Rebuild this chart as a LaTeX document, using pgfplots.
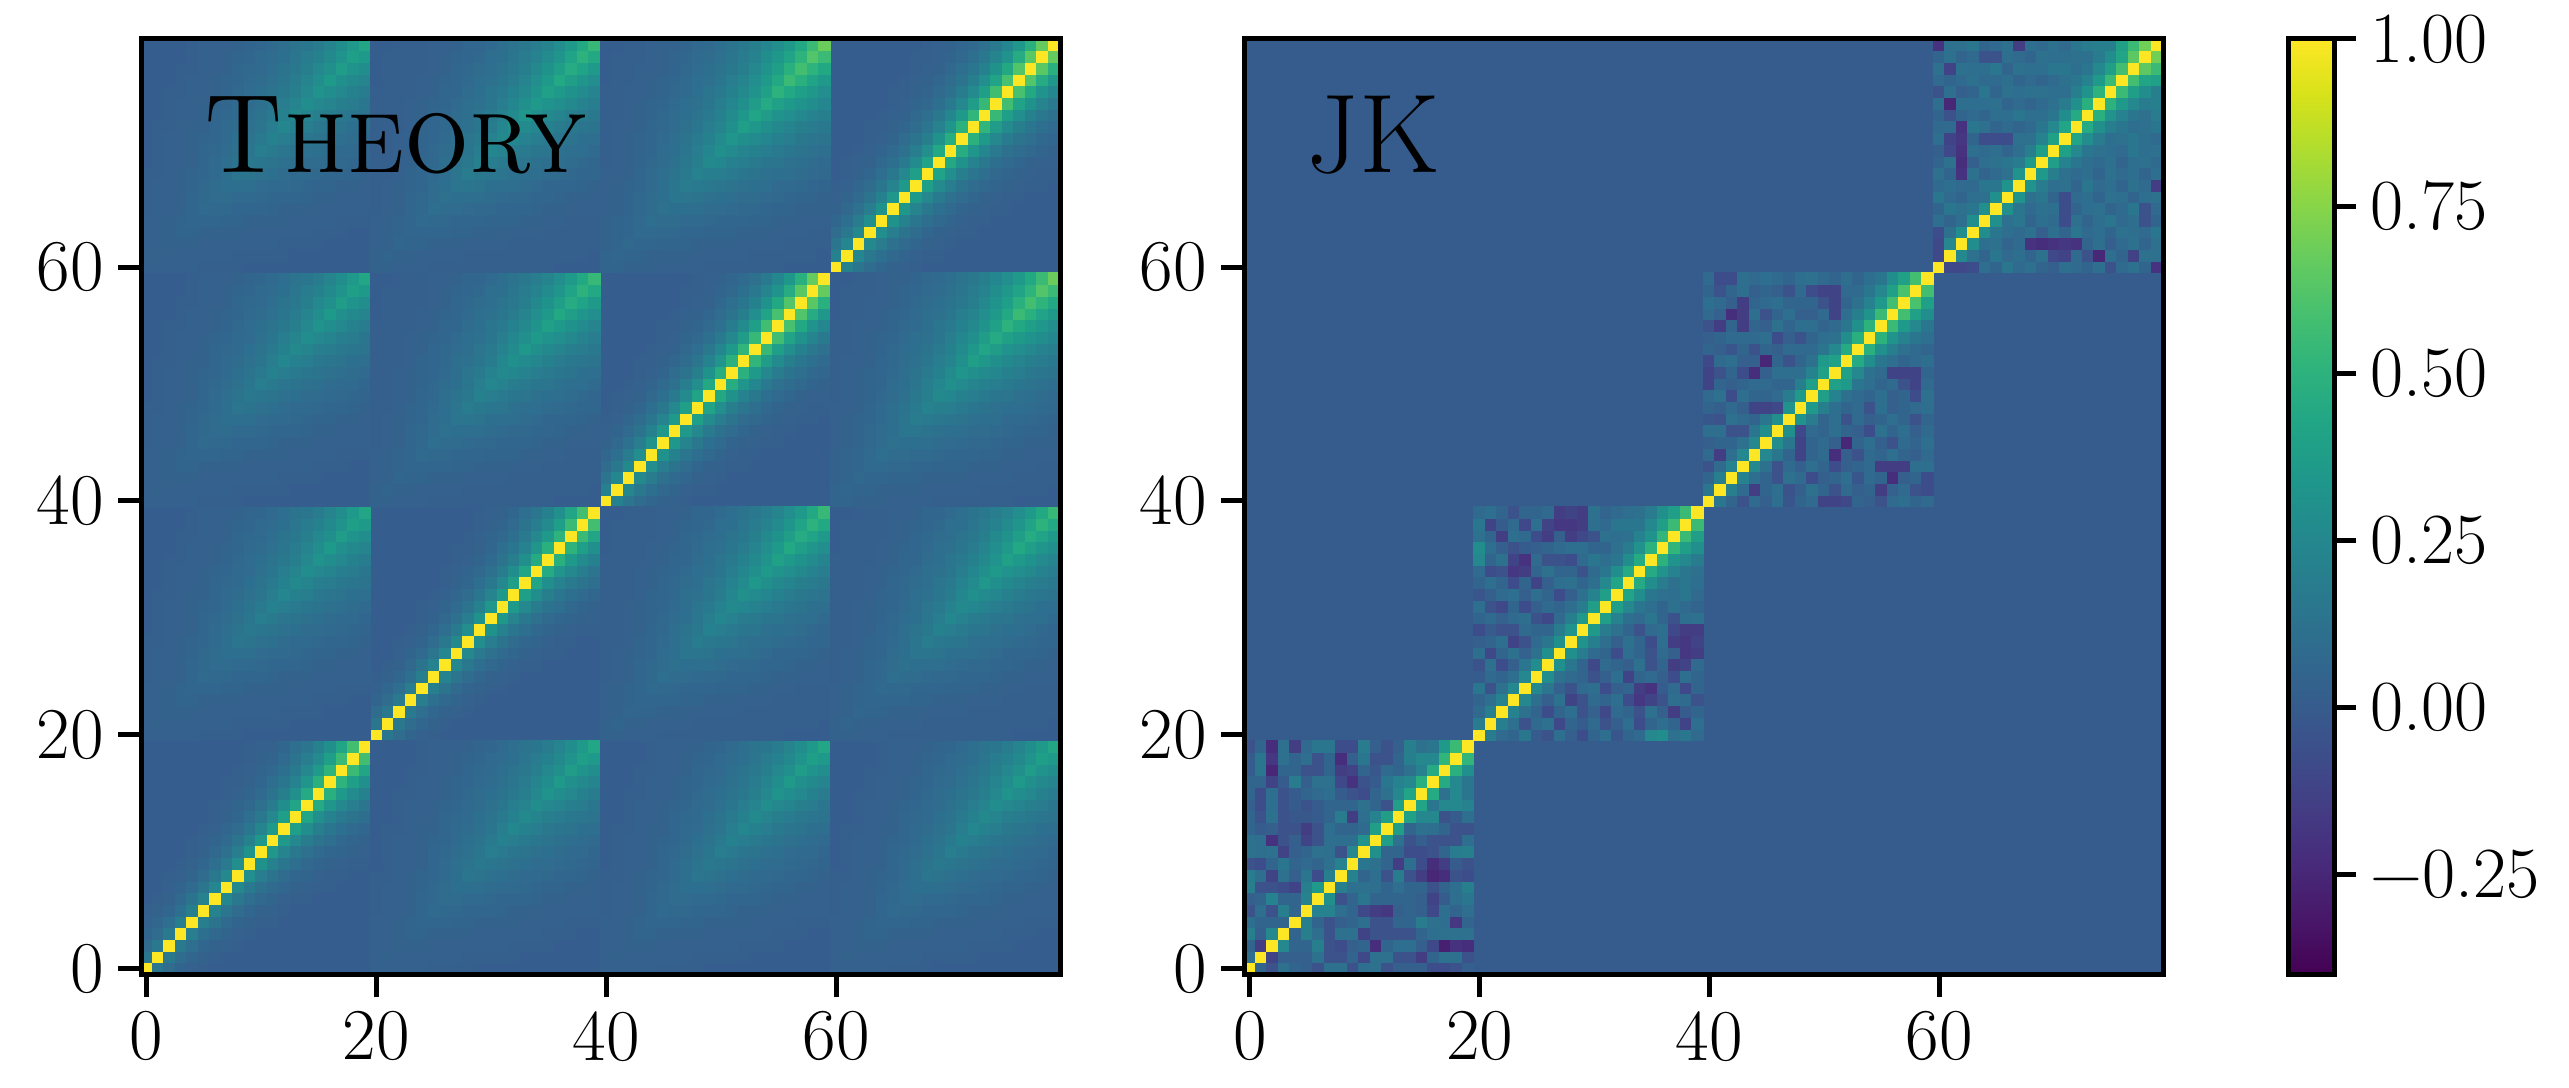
\documentclass[border=0pt]{standalone}
\usepackage{pgfplots}
\usepackage{pgfplotstable}
\pgfplotsset{compat=1.18}
% All cell values are correlations x 100 (first line = local row 0)
% Theory: diagonal blocks 0,1
\pgfplotstableread[header=false]{
100 15 9 5 3 2 1 1 1 1 1 1 1 1 1 1 1 1 1 1
15 100 16 9 6 4 2 1 1 1 1 1 1 1 1 1 1 1 1 1
9 16 100 17 10 6 4 3 2 1 1 1 1 1 1 1 1 1 1 1
5 9 17 100 19 11 7 5 3 2 1 1 1 1 1 1 1 1 1 1
3 6 10 19 100 20 13 8 5 4 2 2 1 1 1 1 1 1 1 1
2 4 6 11 20 100 22 14 9 6 4 3 2 1 1 1 1 1 1 1
1 2 4 7 13 22 100 24 16 10 7 5 3 2 2 1 1 1 1 1
1 1 3 5 8 14 24 100 26 17 12 8 6 4 3 2 2 1 1 1
1 1 2 3 5 9 16 26 100 29 19 13 9 6 5 3 2 2 1 1
1 1 1 2 4 6 10 17 29 100 31 21 15 10 7 5 4 3 2 2
1 1 1 1 2 4 7 12 19 31 100 34 23 16 12 8 6 5 4 3
1 1 1 1 2 3 5 8 13 21 34 100 36 25 18 13 10 7 5 4
1 1 1 1 1 2 3 6 9 15 23 36 100 39 28 20 15 11 8 6
1 1 1 1 1 1 2 4 6 10 16 25 39 100 42 30 22 17 13 10
1 1 1 1 1 1 2 3 5 7 12 18 28 42 100 45 33 25 19 14
1 1 1 1 1 1 1 2 3 5 8 13 20 30 45 100 48 36 27 21
1 1 1 1 1 1 1 2 2 4 6 10 15 22 33 48 100 51 39 30
1 1 1 1 1 1 1 1 2 3 5 7 11 17 25 36 51 100 55 42
1 1 1 1 1 1 1 1 1 2 4 5 8 13 19 27 39 55 100 58
1 1 1 1 1 1 1 1 1 2 3 4 6 10 14 21 30 42 58 100
}\TDa
% Theory: diagonal blocks 2,3
\pgfplotstableread[header=false]{
100 21 14 9 6 4 3 2 1 1 1 1 1 1 1 1 1 1 1 1
21 100 24 16 11 7 5 3 2 2 1 1 1 1 1 1 1 1 1 1
14 24 100 26 18 12 8 6 4 3 2 1 1 1 1 1 1 1 1 1
9 16 26 100 29 19 13 9 6 4 3 2 2 1 1 1 1 1 1 1
6 11 18 29 100 31 21 15 10 7 5 3 2 2 1 1 1 1 1 1
4 7 12 19 31 100 34 23 16 11 8 5 4 3 2 2 1 1 1 1
3 5 8 13 21 34 100 36 25 17 12 9 6 4 3 2 2 1 1 1
2 3 6 9 15 23 36 100 39 27 19 13 9 7 5 4 3 2 2 1
1 2 4 6 10 16 25 39 100 41 29 20 14 10 7 5 4 3 2 2
1 2 3 4 7 11 17 27 41 100 44 31 22 16 11 8 6 4 3 3
1 1 2 3 5 8 12 19 29 44 100 47 33 24 17 12 9 7 5 4
1 1 1 2 3 5 9 13 20 31 47 100 49 35 25 18 13 10 7 6
1 1 1 2 2 4 6 9 14 22 33 49 100 52 37 27 20 15 11 8
1 1 1 1 2 3 4 7 10 16 24 35 52 100 54 39 29 21 16 12
1 1 1 1 1 2 3 5 7 11 17 25 37 54 100 57 41 31 23 17
1 1 1 1 1 2 2 4 5 8 12 18 27 39 57 100 59 44 32 24
1 1 1 1 1 1 2 3 4 6 9 13 20 29 41 59 100 62 46 34
1 1 1 1 1 1 1 2 3 4 7 10 15 21 31 44 62 100 64 48
1 1 1 1 1 1 1 2 2 3 5 7 11 16 23 32 46 64 100 67
1 1 1 1 1 1 1 1 2 3 4 6 8 12 17 24 34 48 67 100
}\TDb
% Theory: off-diagonal blocks with bin 0
\pgfplotstableread[header=false]{
3 3 3 3 3 2 2 2 2 1 1 1 1 1 1 1 1 1 1 1
3 4 3 3 3 3 3 3 2 2 2 2 2 1 1 1 1 1 1 1
3 3 4 4 4 3 3 3 3 3 3 3 2 2 2 2 1 1 1 1
3 3 4 5 5 4 4 4 4 3 3 3 3 3 3 2 2 2 1 1
3 3 4 5 6 6 6 5 5 4 4 4 4 3 3 3 3 2 2 2
2 3 3 4 6 8 7 7 6 6 6 5 4 4 4 3 3 3 3 3
2 3 3 4 6 7 9 9 8 8 7 6 6 6 5 4 4 3 3 3
2 3 3 4 5 7 9 11 11 10 9 8 8 7 6 5 5 4 4 3
2 2 3 4 5 6 8 11 14 13 12 11 9 8 8 7 6 6 5 4
1 2 3 3 4 6 8 10 13 16 15 13 12 11 9 9 8 7 6 5
1 2 3 3 4 6 7 9 12 15 19 17 14 13 12 11 9 8 8 6
1 2 3 3 4 5 6 8 11 13 17 21 19 17 15 13 12 10 9 8
1 2 2 3 4 4 6 8 9 12 14 19 24 21 19 16 14 13 11 10
1 1 2 3 3 4 6 7 8 11 13 17 21 26 23 20 18 16 14 13
1 1 2 3 3 4 5 6 8 9 12 15 19 23 28 25 23 20 18 15
1 1 2 2 3 3 4 5 7 9 11 13 16 20 25 32 28 25 21 18
1 1 1 2 3 3 4 5 6 8 9 12 14 18 23 28 35 30 26 23
1 1 1 2 2 3 3 4 6 7 8 10 13 16 20 25 30 37 32 28
1 1 1 1 2 3 3 4 5 6 8 9 11 14 18 21 26 32 39 35
1 1 1 1 2 3 3 3 4 5 6 8 10 13 15 18 23 28 35 43
}\TOa
% Theory: off-diagonal blocks (1,2), (1,3)
\pgfplotstableread[header=false]{
4 4 3 3 3 2 2 2 2 2 2 2 2 2 2 2 1 1 1 1
4 5 4 4 3 3 3 3 2 2 2 2 2 2 2 2 2 2 2 1
3 4 6 5 5 4 4 4 3 3 3 3 2 2 2 2 2 2 2 2
3 4 5 6 6 6 6 5 5 4 4 4 3 3 3 2 2 2 2 2
3 4 5 6 8 7 7 6 6 6 5 5 5 4 4 3 3 2 2 2
2 3 4 6 7 10 9 9 8 7 7 6 6 6 5 4 4 3 3 3
2 3 4 6 7 9 12 11 10 10 9 8 7 7 6 6 5 4 4 3
2 3 4 5 6 9 11 14 14 13 11 10 10 9 8 6 6 6 5 4
2 2 3 5 6 8 10 14 18 16 15 14 12 10 10 9 8 7 6 6
2 2 3 4 6 7 10 13 16 21 19 17 15 14 12 11 10 9 7 6
2 2 3 4 5 7 9 11 15 19 24 22 18 17 15 14 12 10 10 8
2 2 3 4 5 6 8 10 14 17 22 26 24 22 19 17 15 13 11 10
2 2 2 3 5 6 7 10 12 15 18 24 30 27 24 21 18 16 14 13
2 2 2 3 4 6 7 9 10 14 17 22 27 34 30 26 23 20 18 16
2 2 2 3 4 5 6 8 10 12 15 19 24 30 36 32 29 26 22 19
2 2 2 2 3 4 6 6 9 11 14 17 21 26 32 40 35 31 27 23
1 2 2 2 3 4 5 6 8 10 12 15 18 23 29 35 44 38 33 29
1 2 2 2 2 3 4 6 7 9 10 13 16 20 26 31 38 46 41 35
1 2 2 2 2 3 4 5 6 7 10 11 14 18 22 27 33 41 50 44
1 1 2 2 2 3 3 4 6 6 8 10 13 16 19 23 29 35 44 54
}\TOb
% Theory: off-diagonal block (2,3)
\pgfplotstableread[header=false]{
5 5 4 4 4 3 3 3 3 2 2 2 2 2 2 2 1 1 1 1
5 6 5 5 4 4 4 4 3 3 3 3 3 2 2 2 2 2 2 1
4 5 7 6 6 5 5 5 4 4 4 4 3 3 3 3 2 2 2 2
4 5 6 8 8 7 7 6 6 5 5 5 4 4 4 3 3 3 2 2
4 5 6 8 10 9 9 8 8 7 6 6 6 5 5 4 4 3 3 3
3 4 5 7 9 12 11 11 10 9 9 8 7 7 6 5 5 4 4 4
3 4 5 7 9 11 15 14 13 12 11 10 9 9 8 7 6 5 5 4
3 4 5 6 8 11 14 18 17 16 14 13 12 11 10 8 8 7 6 5
3 3 4 6 8 10 13 17 22 20 19 17 15 13 12 11 10 9 8 7
2 3 4 5 7 9 12 16 20 26 24 21 19 17 15 14 12 11 9 8
2 3 4 5 6 9 11 14 19 24 30 27 23 21 19 17 15 13 12 10
2 3 4 5 6 8 10 13 17 21 27 33 30 27 24 21 19 16 14 13
2 3 3 4 6 7 9 12 15 19 23 30 38 34 30 26 23 20 18 16
2 2 3 4 5 7 9 11 13 17 21 27 34 42 37 32 29 25 22 20
2 2 3 4 5 6 8 10 12 15 19 24 30 37 45 40 36 32 28 24
2 2 3 3 4 5 7 8 11 14 17 21 26 32 40 50 44 39 34 29
1 2 2 3 4 5 6 8 10 12 15 19 23 29 36 44 55 48 41 36
1 2 2 3 3 4 5 7 9 11 13 16 20 25 32 39 48 58 51 44
1 2 2 2 3 4 5 6 8 9 12 14 18 22 28 34 41 51 62 55
1 1 2 2 3 4 4 5 7 8 10 13 16 20 24 29 36 44 55 68
}\TOc
% JK blocks
\pgfplotstableread[header=false]{
100 5 -5 12 5 2 -5 12 12 -5 10 12 -5 2 2 2 -8 -8 -5 2
10 100 -12 2 2 2 12 -5 -5 5 -10 12 12 -5 -5 -15 5 12 12 -5
5 -15 100 25 5 5 20 -5 -8 2 5 -22 5 10 10 2 -10 -28 -20 -22
20 2 25 100 5 20 10 -5 12 12 -12 -5 -5 -5 -5 5 10 12 12 12
10 5 5 5 100 20 5 -5 2 5 10 -5 -5 5 5 18 12 10 -18 5
-5 10 -5 20 5 100 22 22 10 5 -10 -15 -18 2 5 2 -10 10 5 10
2 5 22 5 5 22 100 30 -5 5 15 5 5 5 5 2 -12 0 10 15
20 -5 -5 -8 -12 20 35 100 20 12 12 10 5 10 5 5 -5 5 10 20
18 10 -12 12 2 15 -8 20 100 22 5 10 -5 18 -5 -15 -25 -22 -5 -8
-5 -8 5 15 5 8 5 12 22 100 15 12 5 -15 10 -8 -22 -15 0 -5
12 10 12 -12 2 5 12 10 -5 25 100 30 5 5 -8 -8 -5 5 18 20
12 10 -20 -5 2 -12 -5 10 10 10 32 100 38 12 -5 2 -5 -5 -5 10
5 0 2 -5 -5 -15 -5 10 5 5 8 38 100 38 5 12 10 5 -5 -5
5 -5 12 -5 -2 -2 0 5 18 -15 10 22 38 100 40 25 25 -5 0 10
2 -8 10 -5 0 -5 0 5 5 5 12 5 -5 38 100 42 15 25 25 22
5 -8 10 -5 0 5 8 10 0 -5 -8 5 12 25 42 100 45 12 25 15
5 5 -12 0 18 2 12 12 -10 -20 -5 0 15 22 25 48 100 45 25 15
0 15 -25 5 5 -5 -5 5 -15 -12 5 -2 8 5 12 22 45 100 48 30
0 15 -18 12 5 10 -5 5 -22 2 15 -5 -5 5 20 25 25 52 100 52
-5 5 -22 12 -15 8 15 15 -8 -8 18 2 -5 2 20 12 15 35 55 100
}\JKa
\pgfplotstableread[header=false]{
100 18 8 5 15 0 -5 10 2 -8 5 10 -3 5 8 25 28 12 15 8
18 100 20 10 -5 8 12 -10 5 0 8 -5 2 10 -8 5 10 5 -12 10
8 20 100 22 12 5 -8 5 10 -5 3 -10 8 5 -5 12 2 -15 0 5
5 10 22 100 25 10 2 12 -12 -5 8 5 10 -8 -18 -12 -5 10 8 -5
15 -5 12 25 100 25 15 3 -5 8 10 -8 2 5 -15 -20 0 8 -10 5
0 8 5 10 25 100 28 12 8 5 -5 2 10 -12 5 8 2 -8 10 5
-5 12 -8 2 15 28 100 30 15 5 -10 8 5 2 12 -5 5 -15 -12 8
10 -10 5 12 3 12 30 100 30 18 8 5 -8 10 5 -5 8 2 -18 -15
2 5 10 -12 -5 8 15 30 100 32 20 10 2 12 5 -8 10 -15 -18 -12
-8 0 -5 -5 8 5 5 18 32 100 35 18 12 5 -5 8 10 -10 -15 -15
5 8 3 8 10 -5 -10 8 20 35 100 38 22 10 8 15 5 -5 10 12
10 -5 -10 5 -8 2 8 5 10 18 38 100 38 25 15 10 5 12 8 5
-3 2 8 10 2 10 5 -8 2 12 22 38 100 42 28 15 12 10 15 8
5 10 5 -8 5 -12 2 10 12 5 10 25 42 100 45 28 18 12 15 10
8 -8 -5 -18 -15 5 12 5 5 -5 8 15 28 45 100 45 32 22 15 12
25 5 12 -12 -20 8 -5 -5 -8 8 15 10 15 28 45 100 50 32 25 18
28 10 2 -5 0 2 5 8 10 10 5 5 12 18 32 50 100 52 38 30
12 5 -15 10 8 -8 -15 2 -15 -10 -5 12 10 12 22 32 52 100 55 38
15 -12 0 8 -10 10 -12 -18 -18 -15 10 8 15 15 15 25 38 55 100 55
8 10 5 -5 5 5 8 -15 -12 -15 12 5 8 10 12 18 30 38 55 100
}\JKb
\pgfplotstableread[header=false]{
100 15 5 -5 8 2 10 -3 5 8 -12 -12 -10 5 2 -5 8 10 5 8
15 100 20 8 -15 5 10 -5 2 12 5 -5 8 2 5 -15 3 8 -5 -8
5 20 100 22 10 5 -5 12 8 -8 2 5 10 -3 8 5 -22 2 5 -8
-5 8 22 100 25 12 -5 8 2 10 5 -8 2 5 8 -15 -15 -15 10 10
8 -15 10 25 100 25 15 5 -12 5 8 -22 2 -5 8 5 10 5 2 8
2 5 5 12 25 100 28 15 -12 5 8 2 -25 5 10 2 -5 8 5 10
10 10 -5 -5 15 28 100 30 -10 8 5 10 5 2 -8 12 5 10 2 8
-3 -5 12 8 5 15 30 100 32 18 5 10 -5 8 2 5 10 5 -5 5
5 2 8 2 -12 -12 -10 32 100 35 20 10 5 8 -5 10 2 5 8 10
8 12 -8 10 5 5 8 18 35 100 38 22 12 8 5 10 2 5 -8 12
-12 5 2 5 8 8 5 5 20 38 100 40 35 15 10 5 8 -5 -12 8
-12 -5 5 -8 -22 2 10 10 10 22 40 100 40 25 12 8 -12 -12 -12 5
-10 8 10 2 2 -25 5 -5 5 12 35 40 100 45 28 15 10 5 8 10
5 2 -3 5 -5 5 2 8 8 8 15 25 45 100 48 30 20 12 8 5
2 5 8 8 8 10 -8 2 -5 5 10 12 28 48 100 50 32 22 15 10
-5 -15 5 -15 5 2 12 5 10 10 5 8 15 30 50 100 55 35 25 15
8 3 -22 -15 10 -5 5 10 2 2 8 -12 10 20 32 55 100 58 40 28
10 8 2 -15 5 8 10 5 5 5 -5 -12 5 12 22 35 58 100 60 40
5 -5 5 10 2 5 2 -5 8 -8 -12 -12 8 8 15 25 40 60 100 58
8 -8 -8 10 8 10 8 5 10 12 8 5 10 5 10 15 28 40 58 100
}\JKc
\pgfplotstableread[header=false]{
100 -10 -10 -8 10 5 15 8 12 5 2 10 8 5 10 -5 8 12 5 -20
-10 100 25 12 5 15 8 10 5 12 -10 -12 8 -5 -25 10 5 -12 12 12
-10 25 100 28 10 12 5 8 -20 -22 -20 -18 -20 5 10 2 8 12 5 12
-8 12 28 100 28 15 10 8 12 2 10 5 15 8 10 5 12 10 8 15
10 5 10 28 100 30 12 15 5 10 8 -8 12 5 10 15 8 10 -5 5
5 15 12 15 30 100 30 15 8 12 10 -8 5 10 12 5 8 15 -5 8
15 8 5 10 12 30 100 32 12 15 5 -8 8 10 5 12 10 5 10 12
8 10 8 8 15 15 32 100 32 18 10 12 5 15 8 10 5 12 8 -15
12 5 -20 12 5 8 12 32 100 35 20 12 8 10 5 12 8 10 5 10
5 12 -22 2 10 12 15 18 35 100 38 22 15 10 8 12 5 10 12 8
2 -10 -20 10 8 10 5 10 20 38 100 40 25 15 12 10 8 15 10 12
10 -12 -18 5 -8 -8 -8 12 12 22 40 100 42 28 18 10 12 15 10 8
8 8 -20 15 12 5 8 5 8 15 25 42 100 45 30 20 15 10 12 15
5 -5 5 8 5 10 10 15 10 10 15 28 45 100 48 32 22 15 12 18
10 -25 10 10 10 12 5 8 5 8 12 18 30 48 100 50 35 25 18 20
-5 10 2 5 15 5 12 10 12 12 10 10 20 32 50 100 55 38 28 20
8 5 8 12 8 8 10 5 8 5 8 12 15 22 35 55 100 58 42 40
12 -12 12 10 10 15 5 12 10 10 15 15 10 15 25 38 58 100 65 55
5 12 5 8 -5 -5 10 8 5 12 10 10 12 12 18 28 42 65 100 70
-20 12 12 15 5 8 12 -15 10 8 12 8 15 18 20 20 40 55 70 100
}\JKd

\pgfplotsset{
  cm/.style={scale only axis, width=229.75pt, height=233.875pt,
    xmin=-0.5, xmax=79.5, ymin=-0.5, ymax=79.5, enlargelimits=false,
    axis on top, clip marker paths=true,
    colormap/viridis, point meta min=-40, point meta max=100,
    xtick={0,20,40,60}, ytick={0,20,40,60}, xtick pos=left, ytick pos=left,
    tick align=outside, major tick length=5.75pt,
    tick style={line width=1.25pt, black}, axis line style={line width=1.25pt},
    /pgf/number format/assume math mode=true,
    ticklabel style={font=\fontsize{18.25}{20}\selectfont}},
  cell/.style={scatter, only marks, mark=square*, mark size=1.4617pt,
    mark options={line width=0.3pt, xscale=0.9824},
    scatter/use mapped color={draw=mapped color, fill=mapped color},
    point meta=explicit},
}
\newcommand\cellblock[3]{%
  \pgfplotsinvokeforeach{0,...,19}{%
    \addplot[cell] table[x expr={##1+#2}, y expr={\coordindex+#3}, meta index=##1] {#1};
  }%
}

\begin{document}
\begin{tikzpicture}
\useasboundingbox (0,0) rectangle (642.25pt,272pt);
\begin{axis}[cm, at={(35.25pt,28.375pt)}, anchor=south west]
  \cellblock{\TDa}{0}{0}
  \cellblock{\TDa}{20}{20}
  \cellblock{\TDb}{40}{40}
  \cellblock{\TDb}{60}{60}
  \cellblock{\TOa}{0}{20}
  \cellblock{\TOa}{20}{0}
  \cellblock{\TOa}{0}{40}
  \cellblock{\TOa}{40}{0}
  \cellblock{\TOa}{0}{60}
  \cellblock{\TOa}{60}{0}
  \cellblock{\TOb}{20}{40}
  \cellblock{\TOb}{40}{20}
  \cellblock{\TOb}{20}{60}
  \cellblock{\TOb}{60}{20}
  \cellblock{\TOc}{40}{60}
  \cellblock{\TOc}{60}{40}
  \node[anchor=base west, inner sep=0pt, xscale=0.915, transform shape]
    at (axis cs:4.9,68.1) {\fontsize{28}{32}\selectfont\textsc{Theory}};
\end{axis}
\begin{axis}[cm, at={(311pt,28.375pt)}, anchor=south west,
  colorbar,
  colorbar style={at={(parent axis.south east)}, anchor=south west,
    xshift=22.8pt, scale only axis, width=11.5pt, height=233.875pt,
    ytick={-25,0,25,50,75,100},
    yticklabels={\textminus0.25,0.00,0.25,0.50,0.75,1.00},
    ytick pos=right, yticklabel pos=right, tick align=outside,
    major tick length=5.5pt, tick style={line width=1.25pt, black},
    axis line style={line width=1.25pt},
    yticklabel style={font=\fontsize{18}{20}\selectfont, anchor=west}}]
  \addplot[matrix plot*, mesh/cols=2, point meta=explicit]
    coordinates {(19.5,19.5) [0] (59.5,19.5) [0] (19.5,59.5) [0] (59.5,59.5) [0]};
  \cellblock{\JKa}{0}{0}
  \cellblock{\JKb}{20}{20}
  \cellblock{\JKc}{40}{40}
  \cellblock{\JKd}{60}{60}
  \node[anchor=base west, inner sep=0pt] at (axis cs:4.9,68.1)
    {\fontsize{28}{32}\selectfont JK};
\end{axis}
\end{tikzpicture}
\end{document}
